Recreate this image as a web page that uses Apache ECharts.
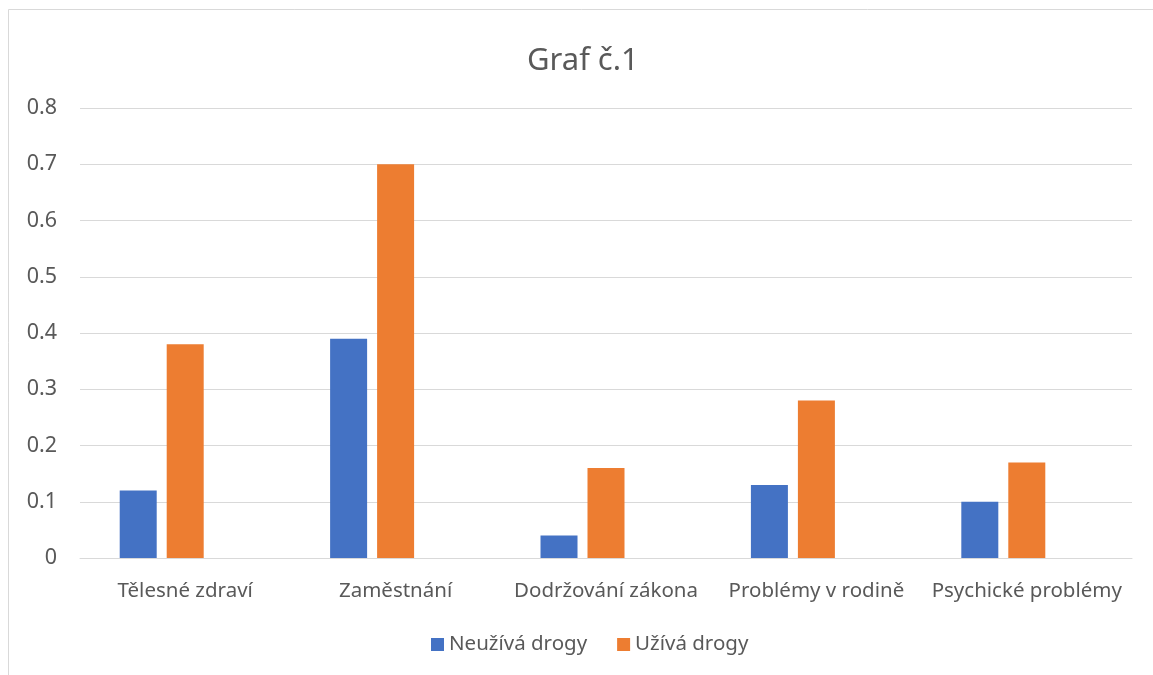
<!DOCTYPE html>
<html>
<head>
<meta charset="utf-8">
<script src="https://cdn.jsdelivr.net/npm/echarts@6/dist/echarts.min.js"></script>
<style>
html,body{margin:0;padding:0;background:#fff;}
#chart{width:1153px;height:675px;}
</style>
</head>
<body>
<div id="chart"></div>
<script>
const categories = ['Tělesné zdraví', 'Zaměstnání', 'Dodržování zákona', 'Problémy v rodině', 'Psychické problémy'];
const neuzivaDrogy = [0.12, 0.39, 0.04, 0.13, 0.10];
const uzivaDrogy = [0.38, 0.70, 0.16, 0.28, 0.17];
const emptySeries = [null, null, null, null, null];
const seriesNames = ['Neužívá drogy', 'Užívá drogy'];

const FONT = '"Noto Sans", "Open Sans", sans-serif';
const TXT = '#595959';

const chart = echarts.init(document.getElementById('chart'), null, {renderer: 'canvas'});
chart.setOption({
  animation: false,
  backgroundColor: '#fff',
  graphic: [{
    type: 'rect',
    shape: {x: 8.5, y: 9.5, width: 1300, height: 800},
    style: {fill: 'none', stroke: '#D9D9D9', lineWidth: 1},
    silent: true
  }],
  title: {
    text: 'Graf č.1',
    left: 522,
    top: 41,
    textStyle: {fontFamily: FONT, fontSize: 31, fontWeight: 'normal', color: TXT}
  },
  legend: {
    data: seriesNames,
    bottom: 15,
    left: 426,
    itemWidth: 13,
    itemHeight: 13,
    itemGap: 30,
    icon: 'rect',
    textStyle: {fontFamily: FONT, fontSize: 20.5, color: TXT}
  },
  grid: {left: 80, right: 21, top: 108, bottom: 117, containLabel: false},
  xAxis: {
    type: 'category',
    data: categories,
    axisLine: {show: true, lineStyle: {color: '#D9D9D9', width: 1}},
    axisTick: {show: false},
    axisLabel: {fontFamily: FONT, fontSize: 20.5, color: TXT, margin: 23, interval: 0}
  },
  yAxis: {
    type: 'value',
    min: 0,
    max: 0.8,
    interval: 0.1,
    axisLine: {show: false},
    axisTick: {show: false},
    splitLine: {lineStyle: {color: '#D9D9D9', width: 1}},
    axisLabel: {fontFamily: FONT, fontSize: 21.5, color: TXT, margin: 23,
      formatter: v => v === 0 ? '0' : v.toFixed(1)}
  },
  series: [
    {name: seriesNames[0], type: 'bar', data: neuzivaDrogy, barWidth: 37, barGap: '27%', barCategoryGap: '38%', itemStyle: {color: '#4472C4'}},
    {name: seriesNames[1], type: 'bar', data: uzivaDrogy, barWidth: 37, barGap: '27%', itemStyle: {color: '#ED7D31'}},
    {name: '_empty', type: 'bar', data: emptySeries, barWidth: 37, barGap: '27%', itemStyle: {color: '#A5A5A5'}}
  ]
});
</script>
</body>
</html>
